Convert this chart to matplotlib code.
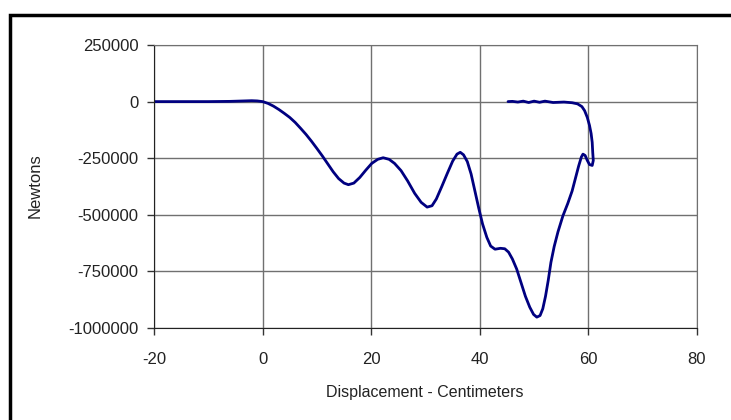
import matplotlib
matplotlib.use('Agg')
import matplotlib.pyplot as plt
from matplotlib.patches import Rectangle

plt.rcParams['font.family'] = ['Liberation Sans', 'DejaVu Sans']

# force trace (cm, N)
disp = [-20, -15, -10, -6, -4, -2, -1, 0, 1, 2, 3, 4, 5, 6, 7, 8, 9, 10,
        11, 12, 13, 14, 15, 15.8, 16.8, 17.9, 19.0, 20.1, 21.2, 22.2, 23.3,
        24.3, 25.5, 26.7, 28.0, 29.2, 30.3, 31.2, 32.0, 33.0, 34.0, 35.0,
        35.8, 36.4, 37.0, 37.7, 38.4, 39.1, 39.8, 40.5, 41.3, 42.0, 42.8,
        43.8, 44.6, 45.3, 46.0, 46.8, 47.6, 48.4, 49.2, 49.9, 50.5, 51.1,
        51.6, 52.1, 52.6, 53.1, 53.7, 54.4, 55.3, 56.2, 57.0, 57.6, 58.2,
        58.7, 59.0, 59.4, 59.8, 60.2, 60.7, 60.9, 60.8, 60.7, 60.5, 60.2,
        59.8, 59.3, 58.8, 58.0, 57.0, 55.5, 53.5, 52.0, 51.0, 50.0, 49.0,
        48.0, 47.0, 46.0, 45.2]
force = [0, 0, 0, 1000, 2500, 4000, 3000, 0, -8000, -20000, -35000, -52000,
         -70000, -92000, -118000, -145000, -175000, -207000, -240000,
         -275000, -310000, -340000, -360000, -367000, -360000, -335000,
         -303000, -273000, -255000, -248000, -255000, -273000, -305000,
         -350000, -405000, -445000, -466000, -460000, -430000, -375000,
         -318000, -263000, -232000, -224000, -235000, -265000, -320000,
         -395000, -470000, -540000, -600000, -638000, -652000, -648000,
         -650000, -665000, -695000, -740000, -800000, -860000, -908000,
         -940000, -952000, -945000, -915000, -860000, -790000, -710000,
         -640000, -575000, -505000, -450000, -395000, -340000, -285000,
         -245000, -232000, -238000, -260000, -278000, -282000, -260000,
         -225000, -180000, -141000, -105000, -70000, -40000, -22000, -10000,
         -5000, -2000, -4000, 2000, -3000, 2000, -4000, 2000, -2000, 1000, 0]

x_ticks = [-20, 0, 20, 40, 60, 80]
y_ticks = [-1000000, -750000, -500000, -250000, 0, 250000]

fig = plt.figure(figsize=(7.31, 4.2), dpi=100)
ax = fig.add_axes([154 / 731, 1 - 328 / 420, 543 / 731, 283 / 420])

ax.plot(disp, force, color='#000080', lw=2.0, solid_joinstyle='round',
        solid_capstyle='round')

ax.set_xlim(-20, 80)
ax.set_ylim(-1000000, 250000)
ax.set_xticks(x_ticks)
ax.set_yticks(y_ticks)
ax.set_xticklabels([str(v) for v in x_ticks])
ax.set_yticklabels([str(v) for v in y_ticks])
ax.grid(True, color='#707070', lw=1)
ax.set_axisbelow(True)
ax.tick_params(direction='out', length=5, width=1, color='#333333',
               labelsize=12, labelcolor='#222222', pad=6)
ax.tick_params(axis='x', pad=12)
for side in ['left', 'bottom']:
    ax.spines[side].set_color('#222222')
for side in ['top', 'right']:
    ax.spines[side].set_color('#707070')

fig.text(35 / 731, 1 - 186 / 420, 'Newtons', rotation=90, ha='center',
         va='center', fontsize=12, color='#222222')
fig.text(425 / 731, 1 - 393 / 420, 'Displacement - Centimeters', ha='center',
         va='center', fontsize=11.5, color='#222222')

fig.patches.append(Rectangle((9.5 / 731, -0.05), 1.0, 1 - 14.5 / 420 + 0.05,
                             transform=fig.transFigure, fill=False,
                             edgecolor='black', lw=2.5))

fig.savefig('out.png', dpi=100)
